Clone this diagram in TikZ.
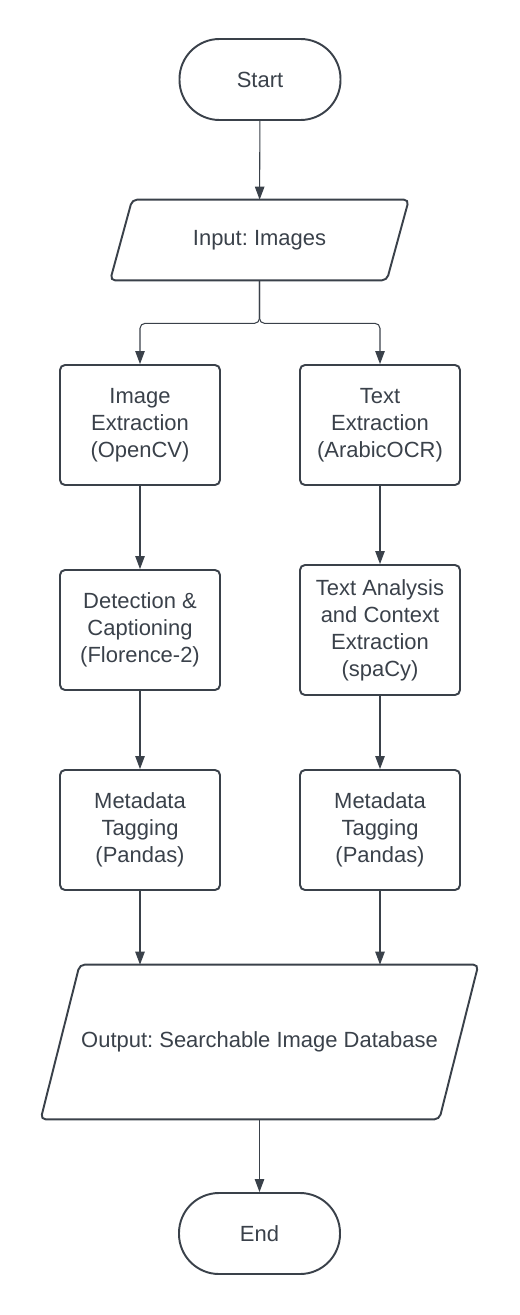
\documentclass[tikz,border=0pt]{standalone}
\usepackage{fontspec}
\setmainfont{Liberation Sans}
\frenchspacing
\usetikzlibrary{arrows.meta}
\definecolor{ink}{HTML}{3A414A}
\tikzset{
	terminal/.style={draw=ink, line width=1.1pt, rounded corners=0.8cm, minimum width=3.22cm, minimum height=1.62cm},
	process/.style={draw=ink, line width=1.1pt, rounded corners=0.1cm, minimum width=3.2cm, minimum height=2.4cm, align=center},
	io/.style={inner sep=0pt},
	line/.style={draw=ink, line width=0.6pt, -{Triangle[width=0.19cm, length=0.26cm]}}
}
\begin{document}
\begin{tikzpicture}[font=\fontsize{12.5}{15.4}\selectfont, text=ink]
		\useasboundingbox (0,0) rectangle (10.4,-26.3);
		\node[terminal] (start) at (5.2,-1.59) {Start};
		\node[io, minimum width=5.96cm, minimum height=1.6cm] (input) at (5.19,-4.8) {Input: Images};
		\node[process] (imgext) at (2.8,-8.5) {Image\\Extraction\\(OpenCV)};
		\node[process] (txtext) at (7.6,-8.5) {Text\\Extraction\\(ArabicOCR)};
		\node[process] (detect) at (2.8,-12.6) {Detection \&\\Captioning\\(Florence-2)};
		\node[process, minimum height=2.6cm] (analysis) at (7.6,-12.6) {Text Analysis\\and Context\\Extraction\\(spaCy)};
		\node[process] (meta1) at (2.8,-16.6) {Metadata\\Tagging\\(Pandas)};
		\node[process] (meta2) at (7.6,-16.6) {Metadata\\Tagging\\(Pandas)};
		\node[io, minimum width=8.74cm, minimum height=3.08cm] (output) at (5.19,-20.84) {Output: Searchable Image Database};
		\node[terminal] (end) at (5.19,-24.67) {End};
		% slanted outlines of the two io nodes
		\foreach \n/\s in {input/0.44, output/0.78}
			\draw[ink, line width=1.1pt, rounded corners=0.1cm] ([xshift=\s cm]\n.north west) -- (\n.north east) -- ([xshift=-\s cm]\n.south east) -- (\n.south west) -- cycle;
		\coordinate (split) at ([yshift=-0.86cm]input.south);
		\draw[line] (start) -- (input);
		\draw[line, rounded corners=0.1cm] (input.south) -- (split) -| (imgext.north);
		\draw[line, rounded corners=0.1cm] (input.south) -- (split) -| (txtext.north);
		\draw[line] (imgext) -- (detect);
		\draw[line] (detect) -- (meta1);
		\draw[line] (txtext) -- (analysis);
		\draw[line] (analysis) -- (meta2);
		\draw[line] (meta1.south) -- (meta1.south |- output.north);
		\draw[line] (meta2.south) -- (meta2.south |- output.north);
		\draw[line] (output) -- (end);
	\end{tikzpicture}
\end{document}
